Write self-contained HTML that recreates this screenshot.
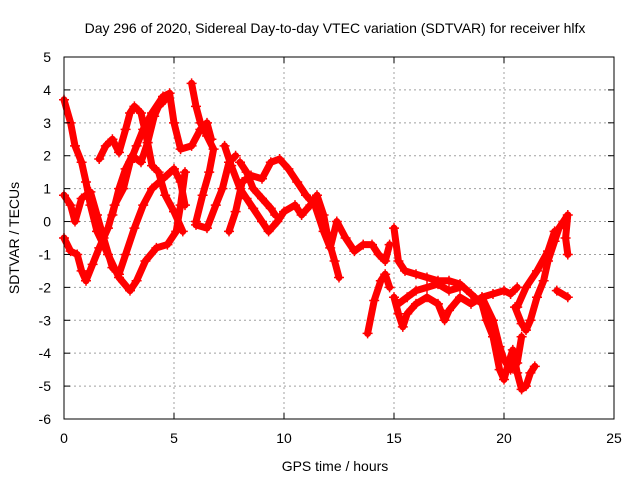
<!DOCTYPE html>
<html><head><meta charset="utf-8"><style>
body{margin:0;background:#fff}
svg{display:block;font-family:"Liberation Sans",sans-serif}
</style></head><body>
<svg id="chart" width="640" height="480" viewBox="0 0 640 480">
<rect width="640" height="480" fill="#fff"/>
<text x="335" y="33" font-size="14" text-anchor="middle">Day 296 of 2020, Sidereal Day-to-day VTEC variation (SDTVAR) for receiver hlfx</text>
<g id="grid"></g>
<g id="marks"></g>
<rect x="64" y="57" width="550" height="362" fill="none" stroke="#000" stroke-width="1"/>
<g id="ticks"></g>
<text x="335" y="471" font-size="14" text-anchor="middle">GPS time / hours</text>
<text transform="translate(19,238) rotate(-90)" font-size="14" text-anchor="middle">SDTVAR / TECUs</text>
</svg>
<script>
const xTicks=[0,5,10,15,20,25];
const yTicks=[-6,-5,-4,-3,-2,-1,0,1,2,3,4,5];
const t1=[[0,3.7],[0.3,3],[0.5,2.3],[0.8,1.8],[1.0,1.2],[1.2,0.5],[1.5,-0.3],[2,-1],[2.5,-1.7],[3,-2.1],[3.3,-1.8],[3.7,-1.2],[4.2,-0.8],[4.7,-0.7],[5.1,-0.3],[5.3,0.5],[5.5,1.5]];
const t2=[[0,-0.5],[0.3,-0.9],[0.6,-1.0],[0.8,-1.5],[1.0,-1.8],[1.3,-1.3],[1.6,-0.8],[2,-0.2],[2.3,0.5],[2.7,1.0],[3,1.8],[3.3,2.3],[3.6,2.8],[4,3.3],[4.5,3.8],[4.8,3.9],[5,3],[5.3,2.2],[5.8,2.3],[6.2,2.8],[6.5,3.0],[6.7,2.5]];
const t3=[[0,0.8],[0.3,0.5],[0.5,0],[0.8,0.7],[1.2,0.9],[1.5,0.2],[1.8,-0.5],[2.2,-1.4],[2.5,-1.6],[2.8,-1.0],[3.2,-0.2],[3.6,0.5],[4.0,1.0],[4.5,1.3],[5.0,1.6],[5.3,1.2],[5.5,0.5]];
const t4=[[1.6,1.9],[1.9,2.3],[2.2,2.5],[2.5,2.1],[2.8,2.8],[3.0,3.3],[3.2,3.5],[3.5,3.3],[3.8,2.4],[4.0,1.7],[4.3,1.5],[4.6,0.8],[5,0.3],[5.4,-0.3]];
const t5=[[2.2,0.2],[2.5,1],[2.8,1.6],[3.1,2.0],[3.5,1.8],[3.8,2.4],[4.1,3.2],[4.3,3.5],[4.6,3.7]];
const t6=[[5.8,4.2],[6,3.5],[6.2,3.0],[6.5,2.6],[6.8,2.2],[6.6,1.5],[6.3,0.8],[6.0,0],[6.0,-0.1],[6.5,-0.2],[6.9,0.5],[7.2,1.0],[7.5,1.8],[7.8,2.0]];
const t7=[[7.3,2.3],[7.6,1.7],[8,1.0],[8.3,0.7],[8.6,0.4],[9,0.0],[9.3,-0.3],[9.7,0],[10,0.3],[10.5,0.5],[10.8,0.2],[11.2,0.5],[11.5,0.8],[11.8,0.2],[12,-0.5],[12.3,-1.2],[12.5,-1.7]];
const t8=[[7.5,-0.3],[7.8,0.3],[8.1,1.2],[8.5,1.4],[9,1.3],[9.4,1.8],[9.8,1.9],[10.2,1.6],[10.6,1.2],[11,0.8],[11.4,0.5],[11.8,-0.3],[12.1,-0.8],[12.4,0.0],[12.8,-0.5],[13.2,-0.9],[13.6,-0.7],[14,-0.7],[14.3,-1.0],[14.6,-1.2],[14.8,-0.7]];
const t9=[[8,1.8],[8.3,1.5],[8.6,1.0],[9,0.7],[9.4,0.4],[9.6,0.2]];
const t10=[[13.8,-3.4],[14.1,-2.4],[14.4,-1.8],[14.6,-1.6],[14.8,-2.0]];
const t11=[[15,-0.2],[15.2,-1.2],[15.5,-1.5],[16,-1.6],[16.5,-1.7],[17,-1.8],[17.5,-1.8],[18,-1.9],[18.5,-2.2],[19,-2.5],[19.2,-3],[19.5,-3.5],[19.8,-4.5],[20,-4.8],[20.2,-4.3],[20.4,-3.9],[20.6,-4.6],[20.8,-5.1],[21,-5.0],[21.2,-4.6],[21.4,-4.4]];
const t12=[[15,-2.3],[15.2,-2.8],[15.4,-3.2],[15.6,-2.8],[16,-2.5],[16.5,-2.3],[17,-2.5],[17.3,-3.0],[17.5,-2.7],[18,-2.3],[18.5,-2.5],[19,-2.3],[19.5,-2.2],[20,-2.1],[20.3,-2.2],[20.6,-2.0]];
const t13=[[15.2,-2.5],[15.6,-2.3],[16,-2.1],[16.5,-2.0],[17,-1.9],[17.5,-2.1],[18,-2.0]];
const t14=[[20.5,-2.6],[20.8,-3.1],[21,-3.3],[21.2,-3.0],[21.5,-2.3],[21.8,-1.8],[22,-1.2],[22.3,-0.6],[22.5,-0.2],[22.7,0.0],[22.9,0.2],[22.8,-0.5],[22.9,-1.0]];
const t15=[[20.6,-2.6],[21,-2.0],[21.5,-1.5],[22,-0.9],[22.3,-0.3]];
const t16=[[22.4,-2.1],[22.9,-2.3]];
const t17=[[19,-2.3],[19.5,-3.0],[19.8,-3.8],[20,-4.2],[20.3,-4.5],[20.6,-4.3],[20.8,-3.5]];
const tracks=[t1,t2,t3,t4,t5,t6,t7,t8,t9,t10,t11,t12,t13,t14,t15,t16,t17];

const NS='http://www.w3.org/2000/svg';
const X0=64,X1=614,Y0=419,Y1=57;
function sx(v){return X0+(v-0)/(25-0)*(X1-X0);}
function sy(v){return Y0-(v+6)/(11)*(Y0-Y1);}
function mk(tag,attrs,parent){const e=document.createElementNS(NS,tag);for(const k in attrs)e.setAttribute(k,attrs[k]);parent.appendChild(e);return e;}
const grid=document.getElementById('grid'),ticks=document.getElementById('ticks'),marks=document.getElementById('marks');
xTicks.forEach(t=>{
  const x=sx(t);
  if(t>0&&t<25){const g=mk('line',{x1:x,x2:x,y1:Y1,y2:Y0,stroke:'#a0a0a0','stroke-dasharray':'2,3'},grid);
  
  }
  mk('line',{x1:x,x2:x,y1:Y0,y2:Y0-6,stroke:'#000'},ticks);
  mk('line',{x1:x,x2:x,y1:Y1,y2:Y1+6,stroke:'#000'},ticks);
  const l=mk('text',{x:x,y:443,'font-size':14,'text-anchor':'middle'},ticks);l.textContent=t;
  
  
});
yTicks.forEach(t=>{
  const y=sy(t);
  if(t>-6&&t<5){const g=mk('line',{x1:X0,x2:X1,y1:y,y2:y,stroke:'#a0a0a0','stroke-dasharray':'2,3'},grid);
  
  }
  mk('line',{x1:X0,x2:X0+6,y1:y,y2:y,stroke:'#000'},ticks);
  mk('line',{x1:X1,x2:X1-6,y1:y,y2:y,stroke:'#000'},ticks);
  const l=mk('text',{x:51,y:y+5,'font-size':14,'text-anchor':'end'},ticks);l.textContent=t;
  
  
});
tracks.forEach((tr,i)=>{
  const pl=mk('polyline',{points:tr.map(p=>sx(p[0])+','+sy(p[1])).join(' '),fill:'none',stroke:'#f00','stroke-width':7,'stroke-linejoin':'round','stroke-linecap':'round'},marks);
  
  
  tr.forEach(p=>{
    const x=sx(p[0]),y=sy(p[1]);
    const m=mk('path',{d:`M${x-5},${y}H${x+5}M${x},${y-5}V${y+5}`,stroke:'#f00','stroke-width':1.5},marks);
    
    
  });
});
</script>
</body></html>
